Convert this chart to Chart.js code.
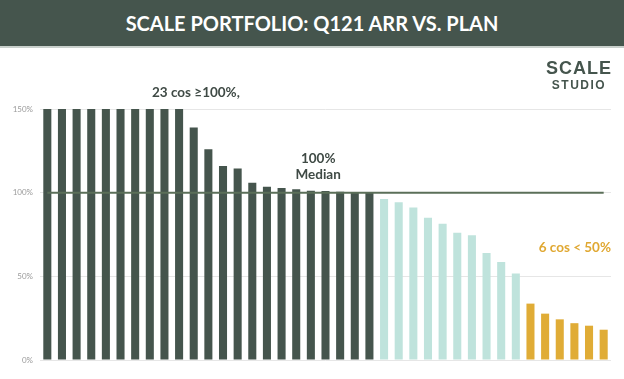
<!DOCTYPE html>
<html>
<head>
<meta charset="utf-8">
<script src="https://cdn.jsdelivr.net/npm/chart.js@4.4.1/dist/chart.umd.min.js"></script>
<style>
  html, body { margin: 0; padding: 0; background: #fff; }
  #wrap { position: relative; width: 624px; height: 379px; overflow: hidden; }
  #chart { position: absolute; left: 0; top: 0; }
  #title {
    position: absolute; left: 0; top: 0; width: 624px; height: 46px;
    background: #45554d; border-bottom: 2px solid #c9d0cc;
    color: #fff; font: bold 20px Lato, sans-serif; text-align: center; line-height: 46px;
  }
  #logo {
    position: absolute; right: 12px; top: 59px; text-align: center; color: #45554d;
    font-family: "Liberation Sans", Arial, sans-serif; font-weight: bold;
  }
  #logo .big { font-size: 18px; letter-spacing: 1px; line-height: 19px; }
  #logo .small { font-size: 12px; letter-spacing: 1.5px; line-height: 14px; }
</style>
</head>
<body>
<div id="wrap">
  <canvas id="chart" width="624" height="379"></canvas>
  <div id="title">SCALE PORTFOLIO: Q121 ARR VS. PLAN</div>
  <div id="logo"><div class="big">SCALE</div><div class="small">STUDIO</div></div>
</div>
<script>
// ARR vs plan, % (companies above 150% are capped at 150)
const abovePlan = [150, 150, 150, 150, 150, 150, 150, 150, 150, 150,
                   139, 126, 116, 114.5, 106, 103.5, 102.8, 102, 101.2, 101, 100.5, 100.2, 100];
const belowPlan = [96.2, 94.2, 91.2, 85, 81.4, 76, 74.6, 63.9, 58.5, 51.7];
const under50 = [33.7, 27.7, 24.3, 22, 20.5, 18.1];
const yTicks = [0, 50, 100, 150];
const planLevel = 100;

const values = [...abovePlan, ...belowPlan, ...under50];
const companies = values.map((v, i) => 'Co ' + (i + 1));
const colors = [
  ...abovePlan.map(() => '#45554d'),
  ...belowPlan.map(() => '#bfe3dc'),
  ...under50.map(() => '#e0ac36')
];

const notes = {
  id: 'notes',
  afterDatasetsDraw(chart) {
    const { ctx, chartArea } = chart;
    const x = chart.scales.x, y = chart.scales.y;
    ctx.save();
    // 100% plan line
    ctx.strokeStyle = '#5b6f59';
    ctx.lineWidth = 2;
    ctx.beginPath();
    ctx.moveTo(x.getPixelForValue(0), y.getPixelForValue(planLevel));
    ctx.lineTo(x.getPixelForValue(values.length - 1), y.getPixelForValue(planLevel));
    ctx.stroke();

    ctx.font = 'bold 13.5px Lato, sans-serif';
    ctx.textBaseline = 'middle';
    ctx.fillStyle = '#3f4a45';
    ctx.textAlign = 'center';
    ctx.fillText('23 cos \u2265100%,', x.getPixelForValue(10.15), y.getPixelForValue(160));
    ctx.fillText('100%', x.getPixelForValue(18.5), y.getPixelForValue(120.4));
    ctx.fillText('Median', x.getPixelForValue(18.5), y.getPixelForValue(111));

    ctx.fillStyle = '#e0a832';
    ctx.textAlign = 'right';
    ctx.fillText('6 cos < 50%', chartArea.right, y.getPixelForValue(67));
    ctx.restore();
  }
};

new Chart(document.getElementById('chart'), {
  type: 'bar',
  data: {
    labels: companies,
    datasets: [{
      data: values,
      backgroundColor: colors,
      borderWidth: 0,
      categoryPercentage: 1,
      barPercentage: 0.55
    }]
  },
  options: {
    responsive: false,
    animation: false,
    layout: { padding: { top: 109, right: 13, bottom: 19, left: 0 } },
    plugins: { legend: { display: false }, tooltip: { enabled: false } },
    scales: {
      x: { display: false },
      y: {
        min: 0, max: 150,
        afterFit(scale) { scale.width = 40; },
        afterBuildTicks(scale) { scale.ticks = yTicks.map(v => ({ value: v })); },
        border: { display: false },
        grid: { color: '#e6e6e6', lineWidth: 1, drawTicks: false },
        ticks: {
          padding: 7,
          color: '#9a9a9a',
          font: { family: 'Lato, sans-serif', size: 8 },
          callback: v => v + '%'
        }
      }
    }
  },
  plugins: [notes]
});
</script>
</body>
</html>
